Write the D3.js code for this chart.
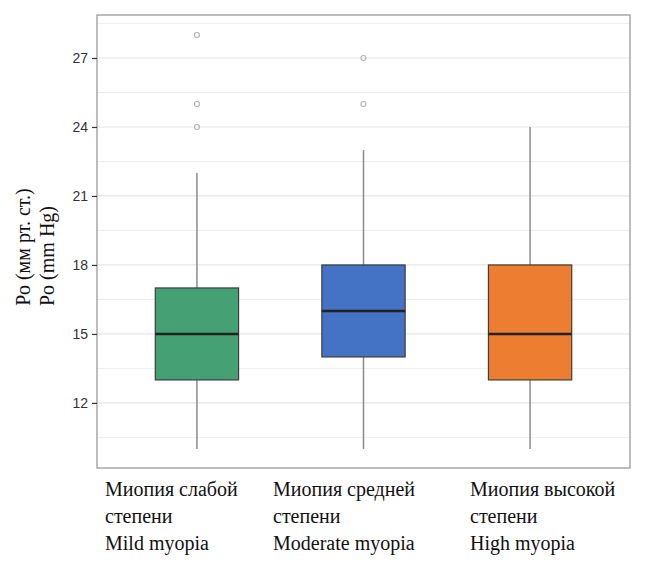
<!DOCTYPE html>
<html>
<head>
<meta charset="utf-8">
<script src="https://cdn.jsdelivr.net/npm/d3@7"></script>
<style>
  body { margin: 0; background: #fff; }
  svg { display: block; }
</style>
</head>
<body>
<svg id="chart" width="650" height="561"></svg>
<script>
// группы миопии
const groups = ['mild', 'moderate', 'high'];
const groupLabels = [
  ['Миопия слабой', 'степени', 'Mild myopia'],
  ['Миопия средней', 'степени', 'Moderate myopia'],
  ['Миопия высокой', 'степени', 'High myopia']
];
const whiskerLow = [10, 10, 10];
const q1 = [13, 14, 13];
const median = [15, 16, 15];
const q3 = [17, 18, 18];
const whiskerHigh = [22, 23, 24];
const outliers = [[24, 25, 28], [25, 27], []];
const fills = ['#45a073', '#4472c4', '#ed7d31'];
const yTicks = [12, 15, 18, 21, 24, 27];
const yMinor = [10.5, 13.5, 16.5, 19.5, 22.5, 25.5, 28.5];

const margin = { left: 97, right: 20, top: 15, bottom: 93 };
const width = 650;
const height = 561;
const svg = d3.select('#chart');

// y scale
const yScale = d3.scaleLinear()
  .domain([9.17, 28.87])
  .range([height - margin.bottom, margin.top]);

// x scale (discrete, expansion 0.6)
const xScale = d3.scaleLinear()
  .domain([0.4, 3.6])
  .range([margin.left, width - margin.right]);
const boxW = (xScale(2) - xScale(1)) * 0.5;

const plot = svg.append('g').attr('class', 'plot');

// сетка
plot.selectAll('line.minor')
  .data(yMinor)
  .enter()
  .append('line')
  .attr('x1', margin.left)
  .attr('x2', width - margin.right)
  .attr('y1', d => yScale(d))
  .attr('y2', d => yScale(d))
  .attr('stroke', '#eeeeee')
  .attr('stroke-width', 1);
plot.selectAll('line.major')
  .data(yTicks)
  .enter()
  .append('line')
  .attr('x1', margin.left)
  .attr('x2', width - margin.right)
  .attr('y1', d => yScale(d))
  .attr('y2', d => yScale(d))
  .attr('stroke', '#e6e6e6')
  .attr('stroke-width', 1.2);

const boxes = plot.selectAll('g.box')
  .data(groups)
  .enter()
  .append('g')
  .attr('class', 'box');

// усы
boxes.append('line')
  .attr('x1', (d, i) => xScale(i + 1))
  .attr('x2', (d, i) => xScale(i + 1))
  .attr('y1', (d, i) => yScale(whiskerLow[i]))
  .attr('y2', (d, i) => yScale(whiskerHigh[i]))
  .attr('stroke', '#8c8c8c')
  .attr('stroke-width', 1.5);

boxes.append('rect')
  .attr('x', (d, i) => xScale(i + 1) - boxW / 2)
  .attr('width', boxW)
  .attr('y', (d, i) => yScale(q3[i]))
  .attr('height', (d, i) => yScale(q1[i]) - yScale(q3[i]))
  .attr('fill', (d, i) => fills[i])
  .attr('stroke', '#3d3d3d')
  .attr('stroke-width', 1.2);

boxes.append('line')
  .attr('x1', (d, i) => xScale(i + 1) - boxW / 2)
  .attr('x2', (d, i) => xScale(i + 1) + boxW / 2)
  .attr('y1', (d, i) => yScale(median[i]))
  .attr('y2', (d, i) => yScale(median[i]))
  .attr('stroke', '#222')
  .attr('stroke-width', 2.4);

// выбросы
boxes.each(function (d, i) {
  d3.select(this).selectAll('circle')
    .data(outliers[i])
    .enter()
    .append('circle')
    .attr('cx', xScale(i + 1))
    .attr('cy', v => yScale(v))
    .attr('r', 2.5)
    .attr('fill', 'none')
    .attr('stroke', '#b0b0b0')
    .attr('stroke-width', 1.1);
});

// рамка
svg.append('rect')
  .attr('x', margin.left)
  .attr('y', margin.top)
  .attr('width', width - margin.left - margin.right)
  .attr('height', height - margin.top - margin.bottom)
  .attr('fill', 'none')
  .attr('stroke', '#9a9a9a')
  .attr('stroke-width', 1.3);

// ось y
const yAxis = d3.axisLeft(yScale)
  .tickValues(yTicks)
  .tickSize(5)
  .tickPadding(4);
const ax = svg.append('g')
  .attr('transform', `translate(${margin.left},0)`)
  .call(yAxis);
ax.select('.domain').remove();
ax.selectAll('.tick line').attr('stroke', '#333').attr('stroke-width', 1.2);
ax.selectAll('.tick text')
  .attr('fill', '#333')
  .style('font-family', '"Liberation Sans", Arial, sans-serif')
  .style('font-size', '14px');

// подпись оси y
const yLabel = svg.append('text')
  .attr('transform', 'rotate(-90)')
  .attr('text-anchor', 'middle')
  .style('font-family', '"Liberation Serif", "Times New Roman", serif')
  .style('font-size', '20px')
  .attr('fill', '#111');
yLabel.append('tspan').attr('x', -247).attr('y', 30).text('Ро (мм рт. ст.)');
yLabel.append('tspan').attr('x', -256).attr('y', 54).text('Po (mm Hg)');

// подписи групп
const labelX = [105, 273, 470];
groupLabels.forEach((lines, i) => {
  const t = svg.append('text')
    .style('font-family', '"Liberation Serif", "Times New Roman", serif')
    .style('font-size', '20px')
    .attr('fill', '#111');
  lines.forEach((s, j) => {
    t.append('tspan')
      .attr('x', labelX[i])
      .attr('y', 496 + j * 27)
      .text(s);
  });
});
</script>
</body>
</html>
